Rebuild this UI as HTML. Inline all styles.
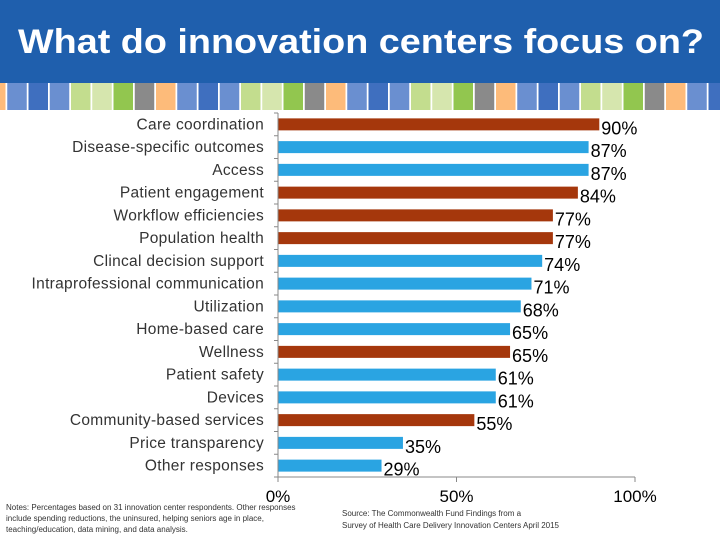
<!DOCTYPE html>
<html><head><meta charset="utf-8"><style>
body{margin:0;width:720px;height:540px;background:#fff;overflow:hidden;font-family:"Liberation Sans",sans-serif}
</style></head><body>
<svg width="720" height="540" xmlns="http://www.w3.org/2000/svg">
<rect x="0" y="0" width="720" height="83" fill="#1F5FAD"/>
<text x="18" y="53" fill="#fff" font-size="34" font-weight="bold" font-family="Liberation Sans, sans-serif" textLength="686" lengthAdjust="spacingAndGlyphs">What do innovation centers focus on?</text>
<g id="stripe"></g>
<g id="chart"></g>
<text x="6" y="510" font-size="8" fill="#333"><tspan x="6">Notes: Percentages based on 31 innovation center respondents. Other responses</tspan><tspan x="6" dy="11">include spending reductions, the uninsured, helping seniors age in place,</tspan><tspan x="6" dy="11">teaching/education, data mining, and data analysis.</tspan></text>
<text x="342" y="516" font-size="8" fill="#333"><tspan x="342">Source: The Commonwealth Fund Findings from a</tspan><tspan x="342" dy="12">Survey of Health Care Delivery Innovation Centers April 2015</tspan></text>
</svg>
<script>
const categories=["Care coordination","Disease-specific outcomes","Access","Patient engagement","Workflow efficiencies","Population health","Clincal decision support","Intraprofessional communication","Utilization","Home-based care","Wellness","Patient safety","Devices","Community-based services","Price transparency","Other responses"];
const values=[90,87,87,84,77,77,74,71,68,65,65,61,61,55,35,29];
const highlight=[1,0,0,1,1,1,0,0,0,0,1,0,0,1,0,0];
const ticks=[0,50,100];
const NS="http://www.w3.org/2000/svg";
function mk(p,t,a){const e=document.createElementNS(NS,t);for(const k in a)e.setAttribute(k,a[k]);p.appendChild(e);return e;}
const st=document.getElementById('stripe');
const cols=["#FDBB7A","#6A8FD0","#3F6FBF","#6A8FD0","#C3DD8E","#D6E6AE","#92C64F","#8A8A8A"];
for(let i=0;i<36;i++){const r=mk(st,'rect',{x:-15+21.25*i+1,y:83,width:19.5,height:27,fill:cols[i%8]});

}
const ch=document.getElementById('chart');
const x0=278,x1=635,yTop=113,yBot=477;
const band=(yBot-yTop)/categories.length;
const xs=v=>x0+(x1-x0)*v/100;
categories.forEach((c,i)=>{
 const cy=yTop+band*(i+0.5);
 const b=mk(ch,'rect',{x:x0,y:cy-6,width:xs(values[i])-x0,height:12,fill:highlight[i]?"#A5370C":"#2AA4E2"});
 
 
 const l=mk(ch,'text',{x:264,y:cy+5,'text-anchor':'end','font-size':15.5,'letter-spacing':0.3,fill:'#333'});l.textContent=c;
 
 
 const v=mk(ch,'text',{x:xs(values[i])+2,y:cy+10,'font-size':18,fill:'#000'});v.textContent=values[i]+'%';
 
 
});
for(let i=0;i<=categories.length;i++){const t=mk(ch,'line',{x1:274,x2:x0,y1:yTop+band*i,y2:yTop+band*i,stroke:'#888'});

}
const ya=mk(ch,'line',{x1:x0,x2:x0,y1:yTop,y2:yBot,stroke:'#888'});


const xa=mk(ch,'line',{x1:x0,x2:x1,y1:yBot,y2:yBot,stroke:'#888'});


ticks.forEach(t=>{
 const tl=mk(ch,'line',{x1:xs(t),x2:xs(t),y1:yBot,y2:yBot+5,stroke:'#888'});
 
 
 const tx=mk(ch,'text',{x:xs(t),y:502,'text-anchor':'middle','font-size':17,fill:'#000'});tx.textContent=t+'%';
 
 
});
</script>
</body></html>
